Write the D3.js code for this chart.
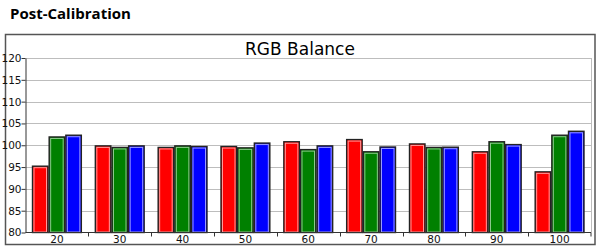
<!DOCTYPE html>
<html>
<head>
<meta charset="utf-8">
<script src="https://cdn.jsdelivr.net/npm/d3@7"></script>
<style>
  body { margin: 0; background: #fff; }
  text { font-family: "DejaVu Sans", Verdana, sans-serif; }
</style>
</head>
<body>
<div id="chart"></div>
<script>
// datos
var categorias = ["20", "30", "40", "50", "60", "70", "80", "90", "100"];
var series = ["rojo", "verde", "azul"];
var rojo  = [95.2, 99.85, 99.5, 99.7, 100.8, 101.3, 100.3, 98.5, 93.9];
var verde = [101.9, 99.5, 99.85, 99.4, 99.0, 98.5, 99.5, 100.8, 102.3];
var azul  = [102.3, 99.85, 99.7, 100.5, 99.85, 99.6, 99.55, 100.15, 103.2];
var ticksY = [80, 85, 90, 95, 100, 105, 110, 115, 120];

var colores = { rojo: "#ff0000", verde: "#008000", azul: "#0000ff" };
var brillo  = { rojo: "#ff9a9a", verde: "#8cc88c", azul: "#9a9aff" };

function graficar(){
	var width = 600, height = 251;
	var svg = d3.select("#chart").append("svg")
		.attr("width", width)
		.attr("height", height);

	svg.append("text")
		.attr("x", 10).attr("y", 18.5)
		.style("font-family", "'Open Sans', sans-serif")
		.style("font-weight", "bold")
		.style("font-size", "15px")
		.text("Post-Calibration");

	// marco exterior
	svg.append("rect")
		.attr("x", 5.5).attr("y", 34.5)
		.attr("width", 589.5).attr("height", 210)
		.attr("fill", "none")
		.attr("stroke", "#555")
		.attr("stroke-width", 1.5);

	svg.append("text")
		.attr("x", 300).attr("y", 55)
		.attr("text-anchor", "middle")
		.style("font-size", "17px")
		.text("RGB Balance");

	var x = d3.scaleBand()
		.domain(categorias)
		.range([25.5, 591]);
	var bw = x.bandwidth();
	var xs = d3.scaleBand()
		.domain(series)
		.range([7, bw - 7])
		.paddingInner(0.07);
	var y = d3.scaleLinear()
		.domain([80, 120])
		.range([232.5, 58]);

	// grilla
	svg.append("g").selectAll("line")
		.data(ticksY.slice(1))
		.enter().append("line")
		.attr("x1", 25.5).attr("x2", 591)
		.attr("y1", function(d){ return Math.round(y(d)) + 0.5; })
		.attr("y2", function(d){ return Math.round(y(d)) + 0.5; })
		.attr("stroke", "#bdbdbd");

	// borde derecho del area
	svg.append("line")
		.attr("x1", 591.5).attr("x2", 591.5)
		.attr("y1", y(120)).attr("y2", y(80))
		.attr("stroke", "#bdbdbd");

	var datos = categorias.map(function(c, i){
		return { cat: c, valores: { rojo: rojo[i], verde: verde[i], azul: azul[i] } };
	});

	var g = svg.selectAll(".grupo")
		.data(datos)
		.enter().append("g")
		.attr("class", "grupo")
		.attr("transform", function(d){ return "translate(" + x(d.cat) + ",0)"; });

	var barras = g.selectAll(".barra")
		.data(function(d){
			return series.map(function(s){ return { serie: s, valor: d.valores[s] }; });
		})
		.enter().append("g")
		.attr("class", "barra");

	barras.append("rect")
		.attr("x", function(d){ return xs(d.serie); })
		.attr("y", function(d){ return y(d.valor); })
		.attr("width", xs.bandwidth())
		.attr("height", function(d){ return y(80) - y(d.valor); })
		.attr("fill", function(d){ return colores[d.serie]; })
		.attr("stroke", "#222")
		.attr("stroke-width", 1.4);

	// brillo interior
	barras.append("rect")
		.attr("x", function(d){ return xs(d.serie) + 1.5; })
		.attr("y", function(d){ return y(d.valor) + 1.5; })
		.attr("width", xs.bandwidth() - 3)
		.attr("height", function(d){ return Math.max(0, y(80) - y(d.valor) - 2); })
		.attr("fill", "none")
		.attr("stroke", function(d){ return brillo[d.serie]; })
		.attr("stroke-width", 1);

	// eje y
	var ejeY = svg.append("g")
		.attr("transform", "translate(25.5,0)")
		.call(d3.axisLeft(y).tickValues(ticksY).tickSize(4).tickSizeOuter(0));
	ejeY.select(".domain").attr("stroke", "#333");
	ejeY.selectAll("line").attr("stroke", "#333");
	ejeY.selectAll("text")
		.attr("x", -4)
		.style("font-size", "10.5px")
		.style("font-family", "DejaVu Sans")
		.attr("fill", "#111");

	// eje x
	var ejeX = svg.append("g").attr("transform", "translate(0," + y(80) + ")");
	ejeX.append("line")
		.attr("x1", 25.5).attr("x2", 591)
		.attr("stroke", "#333");
	ejeX.selectAll(".marca")
		.data(categorias.slice(1).concat(["fin"]))
		.enter().append("line")
		.attr("class", "marca")
		.attr("x1", function(d){ return d === "fin" ? 591 : Math.round(x(d)) + 0.5; })
		.attr("x2", function(d){ return d === "fin" ? 591 : Math.round(x(d)) + 0.5; })
		.attr("y1", 0).attr("y2", 4)
		.attr("stroke", "#333");
	ejeX.selectAll(".etiqueta")
		.data(categorias)
		.enter().append("text")
		.attr("class", "etiqueta")
		.attr("x", function(d){ return x(d) + bw / 2; })
		.attr("y", 10)
		.attr("text-anchor", "middle")
		.style("font-size", "10.5px")
		.attr("fill", "#111")
		.text(function(d){ return d; });
}

graficar();
</script>
</body>
</html>
